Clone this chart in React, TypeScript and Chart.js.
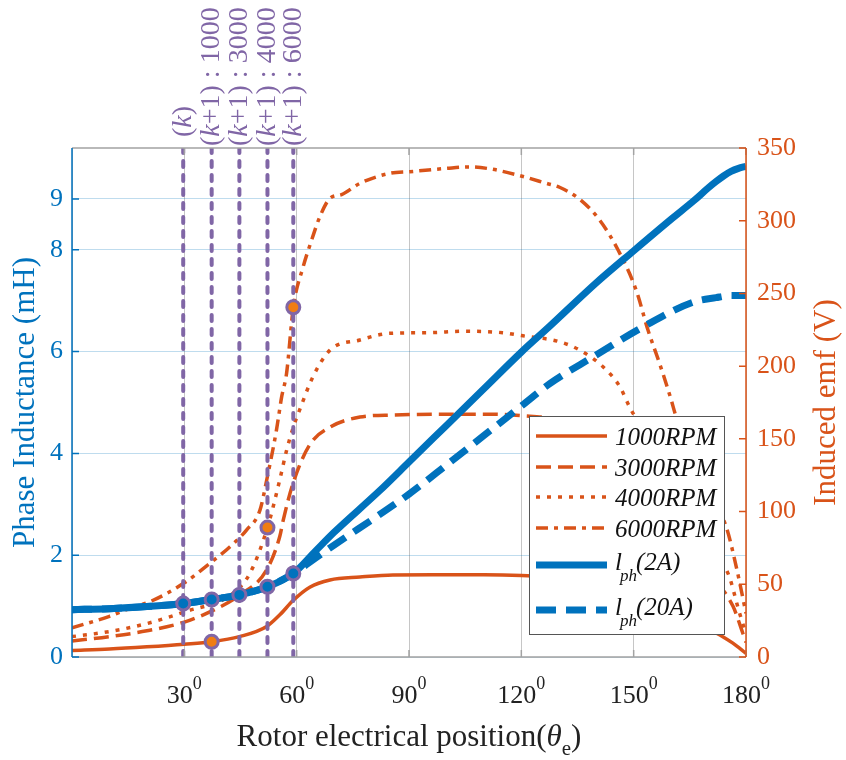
import React, { useEffect, useRef } from "react";
import { Chart, registerables } from "chart.js";

Chart.register(...registerables);

const BLUE = "#0072BD";
const ORANGE = "#D95319";
const PURPLE = "#8066A6";
const MARKER_ORANGE = "#F07D12";
const SERIF = "'Liberation Serif', 'Times New Roman', serif";

// ---------- data (angles in electrical degrees) ----------
const rpm1000X = [0, 10, 20, 30, 37.3, 44.7, 52, 55.5, 59.1, 63.5, 68.9, 76.9, 85.7, 100, 110, 120, 130, 140, 150, 160, 170, 173.8, 176.5, 180];
const rpm1000Y = [4.5, 5.5, 7, 8.8, 10.5, 14, 21, 29, 39, 48, 53, 55, 56.4, 56.5, 56.5, 56, 54.5, 50, 42, 30, 19, 14, 9.5, 2.5];

const rpm3000X = [0, 10, 20, 30, 36.8, 44.8, 52, 55.5, 56.4, 59.1, 63.5, 68.9, 76.9, 85.7, 100, 110, 120, 130, 140, 150, 160, 170, 176.5, 179.2, 180];
const rpm3000Y = [11, 14, 18, 24, 31, 42.6, 60, 83, 94, 120, 146, 158, 165, 166.4, 167, 167, 166, 163, 152, 128, 88, 58, 35, 16, 10];

const rpm4000X = [0, 10, 20, 30, 43, 47.5, 52.2, 55.5, 57.3, 59.1, 60.8, 64.4, 68.9, 76.9, 84.9, 95, 105, 115, 120, 130.2, 135.6, 141.8, 146.3, 148.9, 155, 160, 165, 170, 175.2, 178.3, 180];
const rpm4000Y = [14, 17.5, 23, 31, 43.8, 57.5, 89, 122, 142, 158, 170, 193, 211, 218, 222.6, 223, 224, 223, 221, 216.8, 211, 199.6, 185.9, 172, 145, 118, 95, 75, 57.5, 30, 16];

const rpm6000X = [0, 10, 16, 20.8, 30, 36.8, 42.2, 46.6, 50.2, 52, 54.6, 56, 57.3, 59.1, 61.7, 64, 66.2, 68.9, 72, 76.9, 84.9, 90.2, 100, 106.2, 112, 119.6, 126.7, 130.2, 135.6, 140.9, 145.8, 150.7, 153.8, 156.9, 160, 161, 165, 170, 174.7, 177.4, 180];
const rpm6000Y = [20, 28, 34, 38, 51, 64.4, 75.8, 87.3, 101, 121.7, 156, 179, 195, 240.5, 268, 286.7, 302.8, 315.4, 318, 325.7, 332.6, 333.7, 336, 337, 335.5, 331, 325.7, 323, 314.7, 300.5, 280, 252, 225, 202, 177, 168, 140, 112, 89.6, 62, 30];

const lph2AX = [0, 10, 20, 29.7, 37.3, 44.7, 52.2, 59.1, 65, 70, 82.2, 90, 100, 110, 120, 127.6, 140, 150, 160, 166, 170, 172, 174, 176, 178, 180];
const lph2AY = [0.93, 0.95, 0.99, 1.05, 1.13, 1.22, 1.38, 1.64, 2.08, 2.45, 3.27, 3.83, 4.55, 5.27, 5.99, 6.5, 7.35, 7.98, 8.6, 8.96, 9.22, 9.34, 9.45, 9.54, 9.6, 9.64];

const lph20AX = [0, 10, 20, 29.7, 37.3, 44.7, 52.2, 59.1, 65, 70, 82.2, 90, 100, 110, 120, 127.6, 139, 152.4, 165.8, 172, 176, 180];
const lph20AY = [0.93, 0.95, 0.99, 1.05, 1.13, 1.22, 1.38, 1.64, 1.94, 2.2, 2.8, 3.2, 3.77, 4.35, 4.93, 5.37, 5.89, 6.48, 6.97, 7.06, 7.1, 7.1];

const cursorX = [29.7, 37.3, 44.7, 52.2, 59.1];
const cursorLabels = ["(k)", "(k+1) : 1000", "(k+1) : 3000", "(k+1) : 4000", "(k+1) : 6000"];
const inductanceMarkerY = [1.05, 1.13, 1.22, 1.38, 1.64];
const emfMarkerX = [37.3, 52.2, 59.1];
const emfMarkerY = [10.5, 89, 240.5];

const xTicks = [30, 60, 90, 120, 150, 180];
const leftTicks = [0, 2, 4, 6, 8, 9];
const rightTicks = [0, 50, 100, 150, 200, 250, 300, 350];
const rpmLegend = ["1000RPM", "3000RPM", "4000RPM", "6000RPM"];
const lphLegend = ["(2A)", "(20A)"];

const DASH_3000 = [15, 7];
const DASH_4000 = [4, 7];
const DASH_6000 = [12, 6, 4, 6];
const DASH_20A = [20, 10];

type Run = { text: string; font: string; dy?: number };

function drawRuns(ctx: CanvasRenderingContext2D, runs: Run[], x: number, y: number) {
  let cx = x;
  for (const r of runs) {
    ctx.font = r.font;
    ctx.fillText(r.text, cx, y + (r.dy || 0));
    cx += ctx.measureText(r.text).width;
  }
  return cx - x;
}
function measureRuns(ctx: CanvasRenderingContext2D, runs: Run[]) {
  let w = 0;
  for (const r of runs) {
    ctx.font = r.font;
    w += ctx.measureText(r.text).width;
  }
  return w;
}

const overlay = {
  id: "overlay",
  afterDatasetsDraw(chart: any) {
    const { ctx, chartArea: ca, scales } = chart;
    const xs = scales.x, yl = scales.y, yr = scales.y1;
    ctx.save();

    // box
    ctx.lineWidth = 1.5;
    ctx.setLineDash([]);
    ctx.strokeStyle = "#a3a3a3";
    ctx.beginPath();
    ctx.moveTo(ca.left, ca.top); ctx.lineTo(ca.right, ca.top);
    ctx.moveTo(ca.left, ca.bottom); ctx.lineTo(ca.right, ca.bottom);
    ctx.stroke();
    ctx.beginPath();
    for (const v of xTicks) {
      const px = xs.getPixelForValue(v);
      ctx.moveTo(px, ca.bottom); ctx.lineTo(px, ca.bottom - 7);
      ctx.moveTo(px, ca.top); ctx.lineTo(px, ca.top + 7);
    }
    ctx.stroke();
    // left axis
    ctx.strokeStyle = BLUE;
    ctx.beginPath();
    ctx.moveTo(ca.left, ca.top); ctx.lineTo(ca.left, ca.bottom);
    for (const v of leftTicks) {
      const py = yl.getPixelForValue(v);
      ctx.moveTo(ca.left, py); ctx.lineTo(ca.left + 7, py);
    }
    ctx.stroke();
    // right axis
    ctx.strokeStyle = ORANGE;
    ctx.beginPath();
    ctx.moveTo(ca.right, ca.top); ctx.lineTo(ca.right, ca.bottom);
    for (const v of rightTicks) {
      const py = yr.getPixelForValue(v);
      ctx.moveTo(ca.right, py); ctx.lineTo(ca.right - 7, py);
    }
    ctx.stroke();

    // tick labels
    const tickFont = `26px ${SERIF}`;
    ctx.textBaseline = "middle";
    ctx.font = tickFont;
    ctx.fillStyle = BLUE;
    ctx.textAlign = "right";
    for (const v of leftTicks) ctx.fillText(String(v), ca.left - 9, yl.getPixelForValue(v));
    ctx.fillStyle = ORANGE;
    ctx.textAlign = "left";
    for (const v of rightTicks) ctx.fillText(String(v), ca.right + 11, yr.getPixelForValue(v));

    ctx.fillStyle = "#222";
    ctx.textBaseline = "alphabetic";
    for (const v of xTicks) {
      const runs: Run[] = [
        { text: String(v), font: tickFont },
        { text: "0", font: `18px ${SERIF}`, dy: -14 },
      ];
      const w = measureRuns(ctx, runs);
      drawRuns(ctx, runs, xs.getPixelForValue(v) - w / 2, 703);
    }

    // axis titles
    const titleFont = `31px ${SERIF}`;
    ctx.fillStyle = "#222";
    const xt: Run[] = [
      { text: "Rotor electrical position(", font: titleFont },
      { text: "θ", font: `italic ${titleFont}` },
      { text: "e", font: `21px ${SERIF}`, dy: 9 },
      { text: ")", font: titleFont },
    ];
    const xw = measureRuns(ctx, xt);
    drawRuns(ctx, xt, (ca.left + ca.right) / 2 - xw / 2, 746);

    ctx.textBaseline = "middle";
    ctx.textAlign = "center";
    ctx.font = titleFont;
    ctx.fillStyle = BLUE;
    ctx.save();
    ctx.translate(26, (ca.top + ca.bottom) / 2);
    ctx.rotate(-Math.PI / 2);
    ctx.fillText("Phase Inductance (mH)", 0, 0);
    ctx.restore();
    ctx.fillStyle = ORANGE;
    ctx.save();
    ctx.translate(827, (ca.top + ca.bottom) / 2);
    ctx.rotate(-Math.PI / 2);
    ctx.fillText("Induced emf (V)", 0, 0);
    ctx.restore();

    // cursor labels (rotated, above plot)
    ctx.fillStyle = PURPLE;
    ctx.textAlign = "left";
    ctx.textBaseline = "middle";
    const cf = `28px ${SERIF}`;
    cursorLabels.forEach((lab, i) => {
      const runs: Run[] = [];
      for (const ch of lab) {
        const f = ch === "k" ? `italic ${cf}` : cf;
        const last = runs[runs.length - 1];
        if (last && last.font === f) last.text += ch;
        else runs.push({ text: ch, font: f });
      }
      ctx.save();
      ctx.translate(xs.getPixelForValue(cursorX[i]), i === 0 ? 137 : 146);
      ctx.rotate(-Math.PI / 2);
      drawRuns(ctx, runs, 0, 0);
      ctx.restore();
    });

    // legend
    const lx = 529, ly = 416, lw = 195, lh = 218;
    ctx.fillStyle = "#fff";
    ctx.fillRect(lx, ly, lw, lh);
    ctx.strokeStyle = "#555";
    ctx.lineWidth = 1;
    ctx.setLineDash([]);
    ctx.strokeRect(lx + 0.5, ly + 0.5, lw, lh);
    const rowY = [436, 467, 497, 528, 565, 610];
    const styles = [
      { c: ORANGE, w: 3.5, d: [] as number[] },
      { c: ORANGE, w: 3.5, d: DASH_3000 },
      { c: ORANGE, w: 3.5, d: DASH_4000 },
      { c: ORANGE, w: 3.5, d: DASH_6000 },
      { c: BLUE, w: 7, d: [] as number[] },
      { c: BLUE, w: 7, d: DASH_20A },
    ];
    styles.forEach((s, i) => {
      ctx.strokeStyle = s.c;
      ctx.lineWidth = s.w;
      ctx.lineCap = "butt";
      ctx.setLineDash(s.d);
      ctx.beginPath();
      ctx.moveTo(536, rowY[i]);
      ctx.lineTo(607, rowY[i]);
      ctx.stroke();
    });
    ctx.setLineDash([]);
    ctx.fillStyle = "#111";
    ctx.textAlign = "left";
    ctx.textBaseline = "alphabetic";
    const lf = `italic 25px ${SERIF}`;
    rpmLegend.forEach((t, i) => {
      ctx.font = lf;
      ctx.fillText(t, 615, rowY[i] + 9);
    });
    lphLegend.forEach((t, i) => {
      const y = rowY[4 + i] + 5;
      drawRuns(ctx, [{ text: "l", font: lf }], 615, y);
      drawRuns(ctx, [{ text: "ph", font: `italic 17px ${SERIF}` }], 620, y + 11);
      drawRuns(ctx, [{ text: t, font: lf }], 636, y);
    });

    ctx.restore();
  },
};

export default function App() {
  const ref = useRef<HTMLCanvasElement>(null);
  useEffect(() => {
    const canvas = ref.current!;
    const pts = (xs: number[], ys: number[]) => xs.map((x, i) => ({ x, y: ys[i] }));
    const curve = (label: string, xs: number[], ys: number[], color: string, width: number, dash: number[], axis: string, order: number) => ({
      type: "line",
      label,
      data: pts(xs, ys),
      borderColor: color,
      backgroundColor: color,
      borderWidth: width,
      borderDash: dash,
      borderCapStyle: "butt",
      borderJoinStyle: "round",
      pointRadius: 0,
      fill: false,
      cubicInterpolationMode: "monotone",
      yAxisID: axis,
      order,
    });
    const datasets: any[] = [
      curve("1000RPM", rpm1000X, rpm1000Y, ORANGE, 3.5, [], "y1", 5),
      curve("3000RPM", rpm3000X, rpm3000Y, ORANGE, 3.5, DASH_3000, "y1", 5),
      curve("4000RPM", rpm4000X, rpm4000Y, ORANGE, 3.5, DASH_4000, "y1", 5),
      curve("6000RPM", rpm6000X, rpm6000Y, ORANGE, 3.5, DASH_6000, "y1", 5),
      curve("lph(2A)", lph2AX, lph2AY, BLUE, 7, [], "y", 4),
      curve("lph(20A)", lph20AX, lph20AY, BLUE, 7, DASH_20A, "y", 4),
    ];
    cursorX.forEach((cx, i) => {
      datasets.push({
        type: "line",
        label: cursorLabels[i],
        data: [{ x: cx, y: 0 }, { x: cx, y: 10 }],
        borderColor: PURPLE,
        borderWidth: 4,
        borderDash: [6, 8],
        borderCapStyle: "round",
        pointRadius: 0,
        fill: false,
        yAxisID: "y",
        order: 2,
      });
    });
    datasets.push({
      type: "line",
      label: "markers L",
      data: pts(cursorX, inductanceMarkerY),
      showLine: false,
      pointRadius: 6.5,
      pointBorderWidth: 3,
      pointBorderColor: PURPLE,
      pointBackgroundColor: BLUE,
      yAxisID: "y",
      order: 0,
    });
    datasets.push({
      type: "line",
      label: "markers E",
      data: pts(emfMarkerX, emfMarkerY),
      showLine: false,
      pointRadius: 6.5,
      pointBorderWidth: 3,
      pointBorderColor: PURPLE,
      pointBackgroundColor: MARKER_ORANGE,
      yAxisID: "y1",
      order: 0,
    });

    const chart = new Chart(canvas, {
      type: "line",
      data: { datasets },
      options: {
        animation: false,
        responsive: true,
        maintainAspectRatio: false,
        layout: { padding: { top: 148, left: 0, right: 0, bottom: 0 } },
        plugins: { legend: { display: false }, tooltip: { enabled: false } },
        events: [],
        scales: {
          x: {
            type: "linear",
            min: 0,
            max: 180,
            ticks: { display: false, stepSize: 30 },
            grid: { color: "#c6c6c6", lineWidth: 1, drawTicks: false },
            border: { display: false },
            afterFit: (s: any) => { s.height = 103; },
          },
          y: {
            position: "left",
            min: 0,
            max: 10,
            afterBuildTicks: (s: any) => { s.ticks = leftTicks.map((v) => ({ value: v })); },
            ticks: { display: false },
            grid: { color: "rgba(0,114,189,0.25)", lineWidth: 1, drawTicks: false },
            border: { display: false },
            afterFit: (s: any) => { s.width = 72; },
          },
          y1: {
            position: "right",
            min: 0,
            max: 350,
            ticks: { display: false, stepSize: 50 },
            grid: { display: false, drawTicks: false },
            border: { display: false },
            afterFit: (s: any) => { s.width = 100; },
          },
        },
      } as any,
      plugins: [overlay as any],
    });
    return () => chart.destroy();
  }, []);
  return (
    <div style={{ position: "fixed", left: 0, top: 0, width: 846, height: 760, background: "#fff" }}>
      <canvas ref={ref} />
    </div>
  );
}
